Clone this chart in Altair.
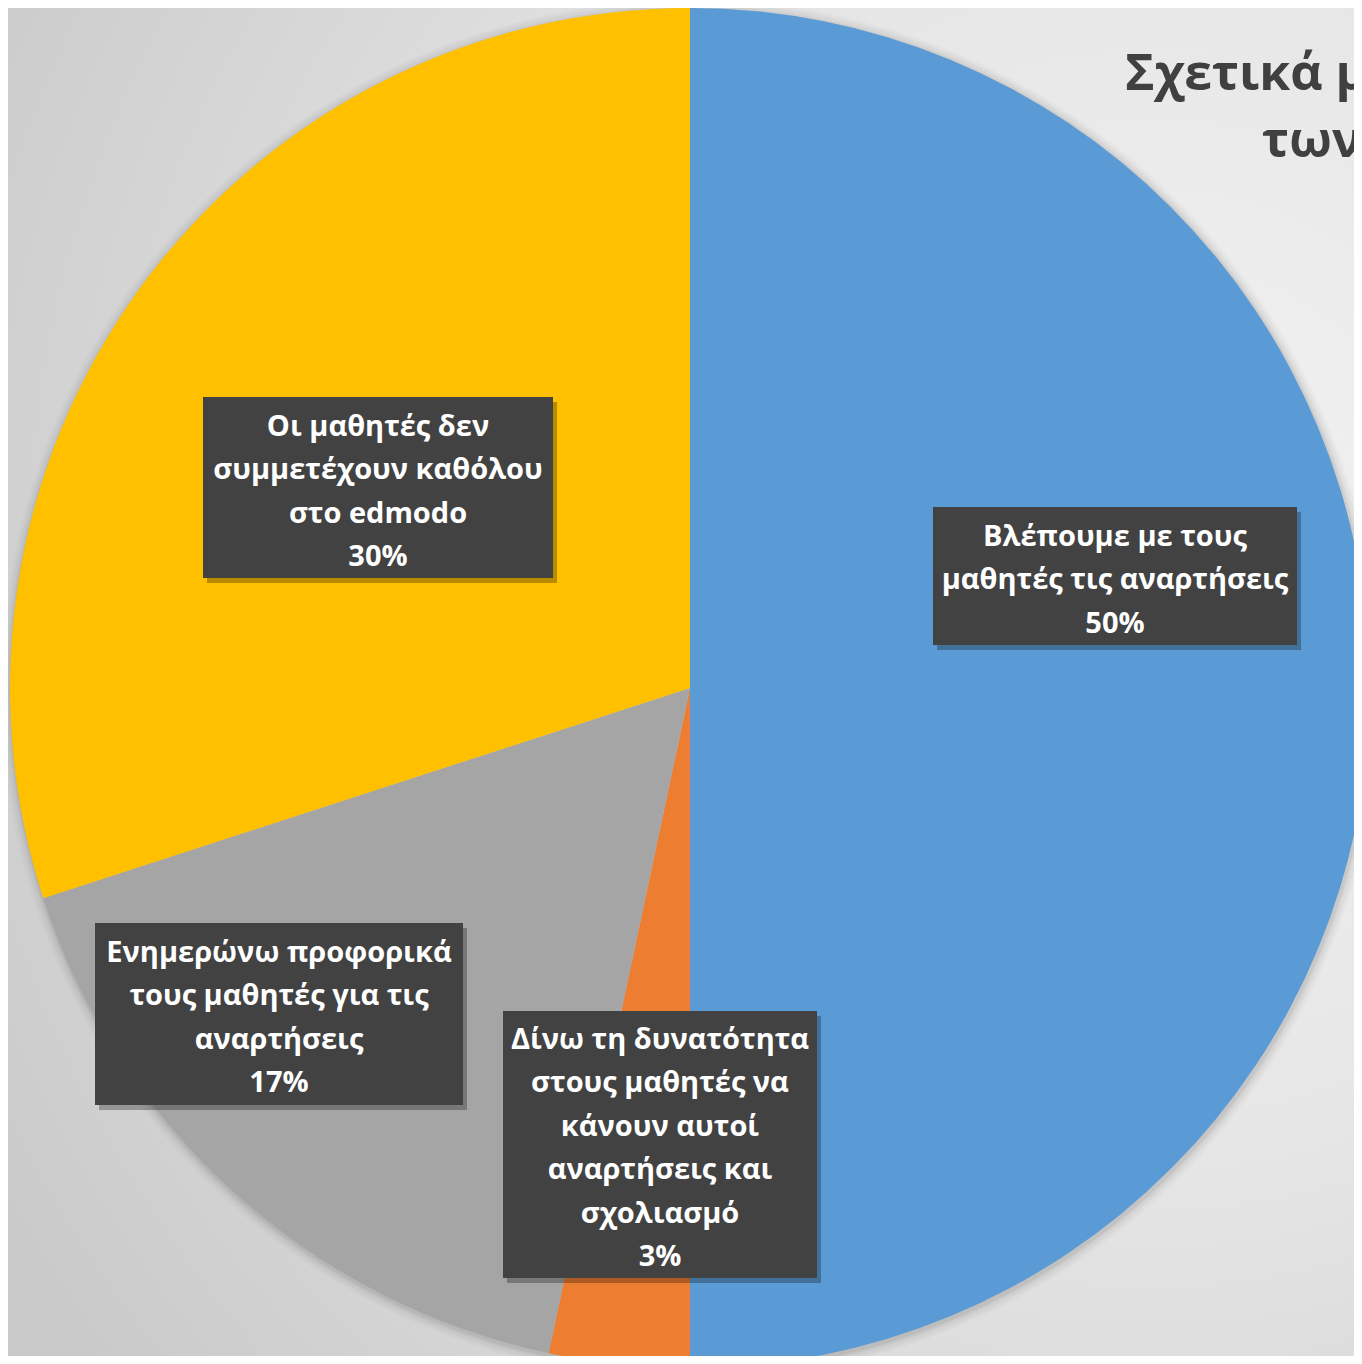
import altair as alt
import pandas as pd

# ---- data ----
categories = [
    "Βλέπουμε με τους μαθητές τις αναρτήσεις",
    "Δίνω τη δυνατότητα στους μαθητές να κάνουν αυτοί αναρτήσεις και σχολιασμό",
    "Ενημερώνω προφορικά τους μαθητές για τις αναρτήσεις",
    "Οι μαθητές δεν συμμετέχουν καθόλου στο edmodo",
]
counts = [15, 1, 5, 9]
percent_labels = ["50%", "3%", "17%", "30%"]
label_lines = [
    ["Βλέπουμε με τους", "μαθητές τις αναρτήσεις", "50%"],
    ["Δίνω τη δυνατότητα", "στους μαθητές να", "κάνουν αυτοί", "αναρτήσεις και", "σχολιασμό", "3%"],
    ["Ενημερώνω προφορικά", "τους μαθητές για τις", "αναρτήσεις", "17%"],
    ["Οι μαθητές δεν", "συμμετέχουν καθόλου", "στο edmodo", "30%"],
]
colors = ["#5B9BD5", "#ED7D31", "#A5A5A5", "#FFC000"]
title_lines = ["Σχετικά με", "των"]

# ---- layout (pixels, chart coordinates) ----
W, H = 1346, 1348
CX, CY, R = 682, 680, 680
# label boxes: x0, x1, y0, y1 ; first text line centre y
boxes = [
    (925, 1289, 499, 637, 529),
    (495, 809, 1003, 1270, 1032),
    (87, 455, 915, 1097, 945),
    (195, 545, 389, 570, 419),
]
LINE_H = 43.4

pie_df = pd.DataFrame({"category": categories, "value": counts, "order": range(len(categories))})

box_rows, text_rows = [], []
for i, (x0, x1, y0, y1, ty) in enumerate(boxes):
    box_rows.append({"x0": x0, "x1": x1, "y0": y0, "y1": y1})
    for j, line in enumerate(label_lines[i]):
        text_rows.append({"x": (x0 + x1) / 2, "y": ty + j * LINE_H, "t": line})
box_df = pd.DataFrame(box_rows)
text_df = pd.DataFrame(text_rows)

one = pd.DataFrame({"k": [0]})

bg = alt.Chart(one).mark_rect(
    color=alt.RadialGradient(
        gradient="radial",
        x1=0.85, y1=0.4, r1=0.0,
        x2=0.85, y2=0.4, r2=1.0,
        stops=[
            alt.GradientStop(offset=0.0, color="#f3f3f3"),
            alt.GradientStop(offset=0.45, color="#e6e6e6"),
            alt.GradientStop(offset=1.0, color="#c9c9c9"),
        ],
    )
).encode(x=alt.value(0), x2=alt.value(W), y=alt.value(0), y2=alt.value(H))

shadows = [
    alt.Chart(one).mark_arc(theta=0, theta2=6.2832, outerRadius=R + d, color="#000000", opacity=op)
    .encode(x=alt.value(CX + 1), y=alt.value(CY + 2))
    for d, op in [(10, 0.025), (7, 0.03), (4, 0.04), (2, 0.05)]
]

pie = alt.Chart(pie_df).mark_arc(outerRadius=R).encode(
    theta=alt.Theta("value:Q", stack=True),
    color=alt.Color("category:N", scale=alt.Scale(domain=categories, range=colors), legend=None),
    order=alt.Order("order:Q"),
    x=alt.value(CX),
    y=alt.value(CY),
)

box_shadow = alt.Chart(box_df).transform_calculate(
    sx0="datum.x0 + 4", sx1="datum.x1 + 4", sy0="datum.y0 + 5", sy1="datum.y1 + 5"
).mark_rect(color="#000000", opacity=0.28).encode(
    x=alt.X("sx0:Q", scale=None), x2="sx1:Q",
    y=alt.Y("sy0:Q", scale=None), y2="sy1:Q",
)

box = alt.Chart(box_df).mark_rect(color="#424242").encode(
    x=alt.X("x0:Q", scale=None), x2="x1:Q",
    y=alt.Y("y0:Q", scale=None), y2="y1:Q",
)

text = alt.Chart(text_df).mark_text(
    font="Open Sans", fontSize=29, fontWeight="bold", color="#ffffff",
    align="center", baseline="middle",
).encode(x=alt.X("x:Q", scale=None), y=alt.Y("y:Q", scale=None), text="t:N")

title_df = pd.DataFrame({"t": title_lines, "x": [1117, 1254], "y": [82, 149]})
title = alt.Chart(title_df).mark_text(
    font="Open Sans", fontSize=50, fontWeight="bold", color="#404040",
    align="left", baseline="alphabetic",
).encode(x=alt.X("x:Q", scale=None), y=alt.Y("y:Q", scale=None), text="t:N")

chart = alt.layer(bg, *shadows, pie, box_shadow, box, text, title).properties(
    width=W, height=H, padding=0, autosize=alt.AutoSizeParams(type="none"),
).configure_view(stroke=None)

chart.save("out.html", embed_options={"renderer": "svg", "actions": False})
